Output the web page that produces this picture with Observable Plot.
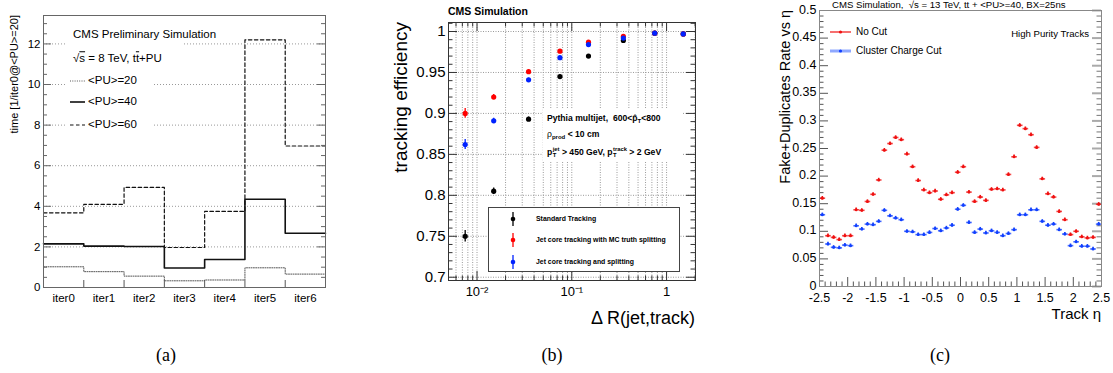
<!DOCTYPE html>
<html><head><meta charset="utf-8">
<script src="https://cdn.jsdelivr.net/npm/d3@7"></script>
<script src="https://cdn.jsdelivr.net/npm/@observablehq/plot@0.6"></script>
<style>
body{margin:0;background:#fff;font-family:"Liberation Sans",Arial,Helvetica,sans-serif;}
#root{position:relative;width:1113px;height:373px;overflow:hidden;background:#fff;}
.panel{position:absolute;top:0;}
.t{position:absolute;white-space:nowrap;line-height:1;}
.box{position:absolute;background:#fff;}
.ss{display:inline-block;vertical-align:middle;line-height:0.95;font-size:0.68em;margin-left:0.5px;}
.ss span{display:block;}
sub{font-size:0.7em;vertical-align:-0.35em;line-height:0;}
sup{font-size:0.7em;vertical-align:0.45em;line-height:0;}
.ov{text-decoration:overline;}
</style></head><body><div id="root"></div>
<script>
// ---------------- DATA ----------------
// (a) timing per iteration
const iterBins = ["iter0","iter1","iter2","iter3","iter4","iter5","iter6"];
const timePU20 = [1.02, 0.78, 0.56, 0.33, 0.37, 0.97, 0.66];
const timePU40 = [2.15, 2.04, 2.02, 0.96, 1.38, 4.35, 2.67];
const timePU60 = [3.68, 4.10, 4.93, 1.97, 3.75, 12.20, 6.97];
const timeTicks = [0, 2, 4, 6, 8, 10, 12];

// (b) tracking efficiency vs dR
const dRBins   = [0.0075, 0.015, 0.035, 0.075, 0.15, 0.35, 0.75, 1.5];
const effStd   = [0.750, 0.805, 0.893, 0.945, 0.970, 0.989, 0.998, 0.997];
const errStd   = [0.007, 0.004, 0.0025, 0.002, 0.0015, 0.0015, 0.001, 0.001];
const effMC    = [0.900, 0.920, 0.951, 0.976, 0.987, 0.994, 0.998, 0.997];
const errMC    = [0.006, 0.003, 0.002, 0.0015, 0.0015, 0.001, 0.001, 0.001];
const effSplit = [0.862, 0.891, 0.941, 0.968, 0.984, 0.992, 0.998, 0.997];
const errSplit = [0.006, 0.003, 0.002, 0.0015, 0.0015, 0.001, 0.001, 0.001];
const effTicks = [0.7, 0.75, 0.8, 0.85, 0.9, 0.95, 1];
const dRMajor  = [0.01, 0.1, 1];
const dRLabels = ["10⁻²", "10⁻¹", "1"];

// (c) fake+duplicate rate vs eta
const etaBins = [-2.45,-2.35,-2.25,-2.15,-2.05,-1.95,-1.85,-1.75,-1.65,-1.55,
                 -1.45,-1.35,-1.25,-1.15,-1.05,-0.95,-0.85,-0.75,-0.65,-0.55,
                 -0.45,-0.35,-0.25,-0.15,-0.05,0.05,0.15,0.25,0.35,0.45,
                 0.55,0.65,0.75,0.85,0.95,1.05,1.15,1.25,1.35,1.45,
                 1.55,1.65,1.75,1.85,1.95,2.05,2.15,2.25,2.35,2.45];
const fakeNoCut = [0.160,0.092,0.089,0.085,0.092,0.092,0.139,0.138,0.154,0.167,
                   0.193,0.247,0.259,0.270,0.266,0.240,0.217,0.192,0.175,0.170,
                   0.173,0.158,0.166,0.170,0.207,0.217,0.171,0.154,0.162,0.156,
                   0.176,0.177,0.175,0.203,0.235,0.292,0.286,0.275,0.252,0.195,
                   0.168,0.162,0.136,0.121,0.094,0.100,0.090,0.088,0.089,0.149];
const fakeChargeCut = [0.130,0.077,0.071,0.070,0.075,0.074,0.110,0.104,0.113,0.112,
                       0.118,0.138,0.128,0.124,0.121,0.100,0.099,0.094,0.094,0.098,
                       0.105,0.101,0.106,0.111,0.140,0.147,0.116,0.098,0.104,0.097,
                       0.101,0.098,0.092,0.096,0.103,0.130,0.130,0.139,0.139,0.118,
                       0.111,0.113,0.103,0.095,0.074,0.081,0.073,0.073,0.068,0.113];
const etaTicks = [-2.5,-2,-1.5,-1,-0.5,0,0.5,1,1.5,2,2.5];
const fakeTicks = [0,0.05,0.1,0.15,0.2,0.25,0.3,0.35,0.4,0.45,0.5];

// ---------------- HELPERS ----------------
const root = document.getElementById("root");
const FONT = '"Liberation Sans", Arial, Helvetica, sans-serif';
function place(node, left) { node.classList.add("panel"); node.style.left = left + "px"; root.appendChild(node); }
function text(html, x, y, o = {}) {
  const d = document.createElement("div");
  d.className = "t";
  d.innerHTML = html;
  d.style.left = x + "px"; d.style.top = y + "px";
  d.style.fontSize = (o.size || 11) + "px";
  if (o.weight) d.style.fontWeight = o.weight;
  if (o.family) d.style.fontFamily = o.family;
  if (o.color) d.style.color = o.color;
  const ax = o.anchor === "end" ? "-100%" : o.anchor === "middle" ? "-50%" : "0";
  if (o.rotate) { d.style.transformOrigin = "0 0"; d.style.transform = `rotate(-90deg) translate(-100%,-50%)`; }
  else d.style.transform = `translate(${ax},-50%)`;
  root.appendChild(d);
  return d;
}
function box(x, y, w, h, border) {
  const d = document.createElement("div");
  d.className = "box";
  Object.assign(d.style, {left: x + "px", top: y + "px", width: w + "px", height: h + "px"});
  if (border) d.style.border = border;
  root.appendChild(d);
  return d;
}
function sample(svgInner, x, y, w, h) {
  const d = document.createElement("div");
  d.className = "t";
  Object.assign(d.style, {left: x + "px", top: (y - h / 2) + "px"});
  d.innerHTML = `<svg width="${w}" height="${h}" style="display:block;overflow:visible">${svgInner}</svg>`;
  root.appendChild(d);
}
const styleBase = {fontFamily: FONT, background: "transparent", overflow: "visible", color: "#000"};
function range(a, b, s) { const out = []; for (let v = a; v <= b + 1e-9; v += s) out.push(+v.toFixed(4)); return out; }

// ---------------- PANEL (a) ----------------
{
  const W = 370, H = 320, mL = 43, mR = 45, mT = 15, mB = 33;
  const fw = W - mL - mR, fh = H - mT - mB;
  const steps = vals => vals.map((v, i) => ({x: i, y: v})).concat([{x: vals.length, y: vals[vals.length - 1]}]);
  const minor = range(0, 13, 0.5).filter(v => v % 2 !== 0);
  const edges = iterBins.slice(1).map((_, i) => i + 1);
  const p = Plot.plot({
    width: W, height: H, marginLeft: mL, marginRight: mR, marginTop: mT, marginBottom: mB,
    style: styleBase,
    x: {domain: [0, iterBins.length]},
    y: {domain: [0, 13.4]},
    marks: [
      Plot.ruleY(timeTicks.slice(1), {stroke: "#999", strokeDasharray: "1,2"}),
      Plot.line(steps(timePU20), {x: "x", y: "y", curve: "step-after", stroke: "#555", strokeWidth: 1, strokeDasharray: "1,1.3"}),
      Plot.line(steps(timePU60), {x: "x", y: "y", curve: "step-after", stroke: "#111", strokeWidth: 1.2, strokeDasharray: "3.5,2.5"}),
      Plot.line(steps(timePU40), {x: "x", y: "y", curve: "step-after", stroke: "#111", strokeWidth: 1.6}),
      Plot.tickY(timeTicks, {stroke: "#666", insetRight: fw - 8}),
      Plot.tickY(minor, {stroke: "#666", insetRight: fw - 4}),
      Plot.tickY(timeTicks, {stroke: "#666", insetLeft: fw - 8}),
      Plot.tickY(minor, {stroke: "#666", insetLeft: fw - 4}),
      Plot.tickX(edges, {stroke: "#555", insetTop: fh - 7}),
      Plot.axisY({ticks: timeTicks, tickSize: 0, tickPadding: 3, fontSize: 11.5, label: null}),
      Plot.axisX({ticks: iterBins.map((_, i) => i + 0.5), tickFormat: d => iterBins[Math.floor(d)], tickSize: 0, tickPadding: 6, fontSize: 11.5, label: null}),
      Plot.frame({stroke: "#666"})
    ]
  });
  place(p, 0);
  box(65, 27, 118, 40);
  box(65, 70, 88, 64);
  text("CMS Preliminary Simulation", 73, 35, {size: 11.5});
  text('√<span class="ov">s</span> = 8 TeV, t<span class="ov">t</span>+PU', 73, 59, {size: 11.5});
  sample('<line x1="0" x2="15" y1="1" y2="1" stroke="#555" stroke-dasharray="1,1.3"/>', 70, 81, 15, 2);
  sample('<line x1="0" x2="15" y1="1" y2="1" stroke="#111" stroke-width="1.6"/>', 70, 102, 15, 2);
  sample('<line x1="0" x2="15" y1="1" y2="1" stroke="#111" stroke-width="1.2" stroke-dasharray="3.5,2.5"/>', 70, 125, 15, 2);
  text("&lt;PU&gt;=20", 88, 81, {size: 11.5});
  text("&lt;PU&gt;=40", 88, 102, {size: 11.5});
  text("&lt;PU&gt;=60", 88, 125, {size: 11.5});
  text("time [1/iter0@&lt;PU&gt;=20]", 14, 15, {size: 11, rotate: true});
  text("(a)", 166, 355, {size: 18, family: '"Liberation Serif", "Times New Roman", serif', anchor: "middle"});
}

// ---------------- PANEL (b) ----------------
{
  const W = 340, H = 330, mL = 68, mR = 25, mT = 22, mB = 50, left = 380;
  const fw = W - mL - mR, fh = H - mT - mB;
  const series = [
    {vals: effStd, errs: errStd, color: "#000"},
    {vals: effMC, errs: errMC, color: "#f00"},
    {vals: effSplit, errs: errSplit, color: "#0022ff"}
  ];
  const rows = series.flatMap(s => dRBins.map((x, i) => ({x, v: s.vals[i], e: s.errs[i], c: s.color})));
  const logAll = [];
  for (const dec of [0.001, 0.01, 0.1, 1]) for (let k = 1; k <= 9; k++) { const v = +(k * dec).toPrecision(3); if (v >= 0.005 && v <= 2.02) logAll.push(v); }
  const logMinor = logAll.filter(v => !dRMajor.includes(v));
  const yMinor = range(0.7, 1.01, 0.01).filter(v => !effTicks.some(t => Math.abs(t - v) < 1e-6));
  const tk = {stroke: "#333"};
  const labelOf = d => { const j = dRMajor.findIndex(m => Math.abs(m - d) < 1e-9); return j >= 0 ? dRLabels[j] : ""; };
  const p = Plot.plot({
    width: W, height: H, marginLeft: mL, marginRight: mR, marginTop: mT, marginBottom: mB,
    style: styleBase,
    x: {type: "log", domain: [0.005, 2.02], axis: null},
    y: {domain: [0.696, 1.011]},
    marks: [
      Plot.ruleX(logAll, {stroke: "#9a9a9a", strokeDasharray: "1,1.5"}),
      Plot.ruleY(effTicks, {stroke: "#9a9a9a", strokeDasharray: "1,1.5"}),
      Plot.tickY(effTicks, {...tk, insetRight: fw - 9}),
      Plot.tickY(yMinor, {...tk, insetRight: fw - 4.5}),
      Plot.tickY(effTicks, {...tk, insetLeft: fw - 9}),
      Plot.tickY(yMinor, {...tk, insetLeft: fw - 4.5}),
      Plot.tickX(dRMajor, {...tk, insetTop: fh - 9}),
      Plot.tickX(logMinor, {...tk, insetTop: fh - 4.5}),
      Plot.tickX(dRMajor, {...tk, insetBottom: fh - 9}),
      Plot.tickX(logMinor, {...tk, insetBottom: fh - 4.5}),
      Plot.ruleX(rows, {x: "x", y1: d => d.v - d.e, y2: d => d.v + d.e, stroke: "c", strokeWidth: 1.3}),
      Plot.dot(rows, {x: "x", y: "v", fill: "c", r: 2.6}),
      Plot.axisY({ticks: effTicks, tickFormat: d => String(+d.toFixed(2)), tickSize: 0, tickPadding: 3, fontSize: 15, label: null}),
      Plot.text(dRMajor, {x: d => d, frameAnchor: "bottom", dy: 15, text: labelOf, fontSize: 13, textAnchor: "middle"}),
      Plot.frame({stroke: "#333"})
    ]
  });
  place(p, left);
  text("CMS Simulation", 448, 11, {size: 10.5, weight: "bold"});
  text("tracking efficiency", 400, 22, {size: 19, rotate: true});
  text("Δ R(jet,track)", 695, 318, {size: 18, anchor: "end"});
  box(543, 108, 140, 54);
  text('Pythia multijet,&nbsp; 600&lt;p̂<sub>T</sub>&lt;800', 547, 118, {size: 8.6, weight: "bold"});
  text('<span style="font-weight:normal">ρ</span><sub>prod</sub> &lt; 10 cm', 547, 134, {size: 8.6, weight: "bold"});
  text('p<span class="ss"><span>jet</span><span>T</span></span> &gt; 450 GeV, p<span class="ss"><span>track</span><span>T</span></span> &gt; 2 GeV', 547, 153, {size: 8.6, weight: "bold"});
  box(488, 207, 190, 63, "1px solid #444");
  const legB = [["Standard Tracking", "#000", 219], ["Jet core tracking with MC truth splitting", "#f00", 240], ["Jet core tracking and splitting", "#0022ff", 262]];
  for (const [lab, col, y] of legB) {
    sample(`<line x1="4" x2="4" y1="0" y2="14" stroke="${col}" stroke-width="1.3"/><circle cx="4" cy="7" r="2.3" fill="${col}"/>`, 509, y, 8, 14);
    text(lab, 536, y, {size: 6.9, weight: "bold"});
  }
  text("(b)", 552, 355, {size: 18, family: '"Liberation Serif", "Times New Roman", serif', anchor: "middle"});
}

// ---------------- PANEL (c) ----------------
{
  const W = 353, H = 330, mL = 59, mR = 12, mT = 10, mB = 44, left = 760;
  const fw = W - mL - mR, fh = H - mT - mB;
  const rows = [
    ...etaBins.map((x, i) => ({x, v: fakeChargeCut[i], c: "#1140ff"})),
    ...etaBins.map((x, i) => ({x, v: fakeNoCut[i], c: "#f01010"}))
  ];
  const yMinor = range(0, 0.5, 0.01).filter(v => !fakeTicks.some(t => Math.abs(t - v) < 1e-6));
  const xMinor = range(-2.5, 2.5, 0.1).filter(v => !etaTicks.some(t => Math.abs(t - v) < 1e-6));
  const half = (etaBins[1] - etaBins[0]) / 2;
  const p = Plot.plot({
    width: W, height: H, marginLeft: mL, marginRight: mR, marginTop: mT, marginBottom: mB,
    style: styleBase,
    x: {domain: [-2.5, 2.5]},
    y: {domain: [0, 0.5]},
    marks: [
      Plot.tickY(fakeTicks, {stroke: "#555", insetRight: fw - 9}),
      Plot.tickY(yMinor, {stroke: "#555", insetRight: fw - 4.5}),
      Plot.tickY(fakeTicks, {stroke: "#aaa", strokeWidth: 2, insetLeft: fw - 9}),
      Plot.tickY(yMinor, {stroke: "#777", insetLeft: fw - 4.5}),
      Plot.tickX(etaTicks, {stroke: "#555", insetTop: fh - 9}),
      Plot.tickX(xMinor, {stroke: "#555", insetTop: fh - 4.5}),
      Plot.link(rows, {x1: d => d.x - half, x2: d => d.x + half, y1: "v", y2: "v", stroke: "c", strokeWidth: 1.6, strokeOpacity: 0.75}),
      Plot.ruleX(rows, {x: "x", y1: d => d.v - 0.003, y2: d => d.v + 0.003, stroke: "c", strokeWidth: 1.6}),
      Plot.dot(rows, {x: "x", y: "v", fill: "c", r: 1.5}),
      Plot.axisY({ticks: fakeTicks, tickFormat: d => String(d), tickSize: 0, tickPadding: 3, fontSize: 12.5, dy: -1, label: null}),
      Plot.axisX({ticks: etaTicks, tickFormat: d => String(d), tickSize: 0, tickPadding: 7, fontSize: 12.5, label: null}),
      Plot.frame({stroke: "#888"})
    ]
  });
  place(p, left);
  text('CMS Simulation,&nbsp; √<span class="ov">s</span> = 13 TeV, <span class="ov">t</span>t + &lt;PU&gt;=40, BX=25ns', 832, 5, {size: 9.6});
  text("Fake+Duplicates Rate vs η", 785, 10, {size: 14.5, rotate: true});
  text("Track η", 1101, 313, {size: 15, anchor: "end"});
  sample('<line x1="0" x2="21" y1="3" y2="3" stroke="#f01010" stroke-width="1.2"/><circle cx="10.5" cy="3" r="1.6" fill="#f01010"/>', 830, 32, 21, 6);
  sample('<line x1="0" x2="21" y1="3" y2="3" stroke="#8fa8ff" stroke-width="3"/><circle cx="10.5" cy="3" r="1.6" fill="#1140ff"/>', 830, 51, 21, 6);
  text("No Cut", 856, 32, {size: 10});
  text("Cluster Charge Cut", 856, 51, {size: 10});
  text("High Purity Tracks", 1089, 34, {size: 9.6, anchor: "end"});
  text("(c)", 940, 355, {size: 18, family: '"Liberation Serif", "Times New Roman", serif', anchor: "middle"});
}
</script></body></html>
